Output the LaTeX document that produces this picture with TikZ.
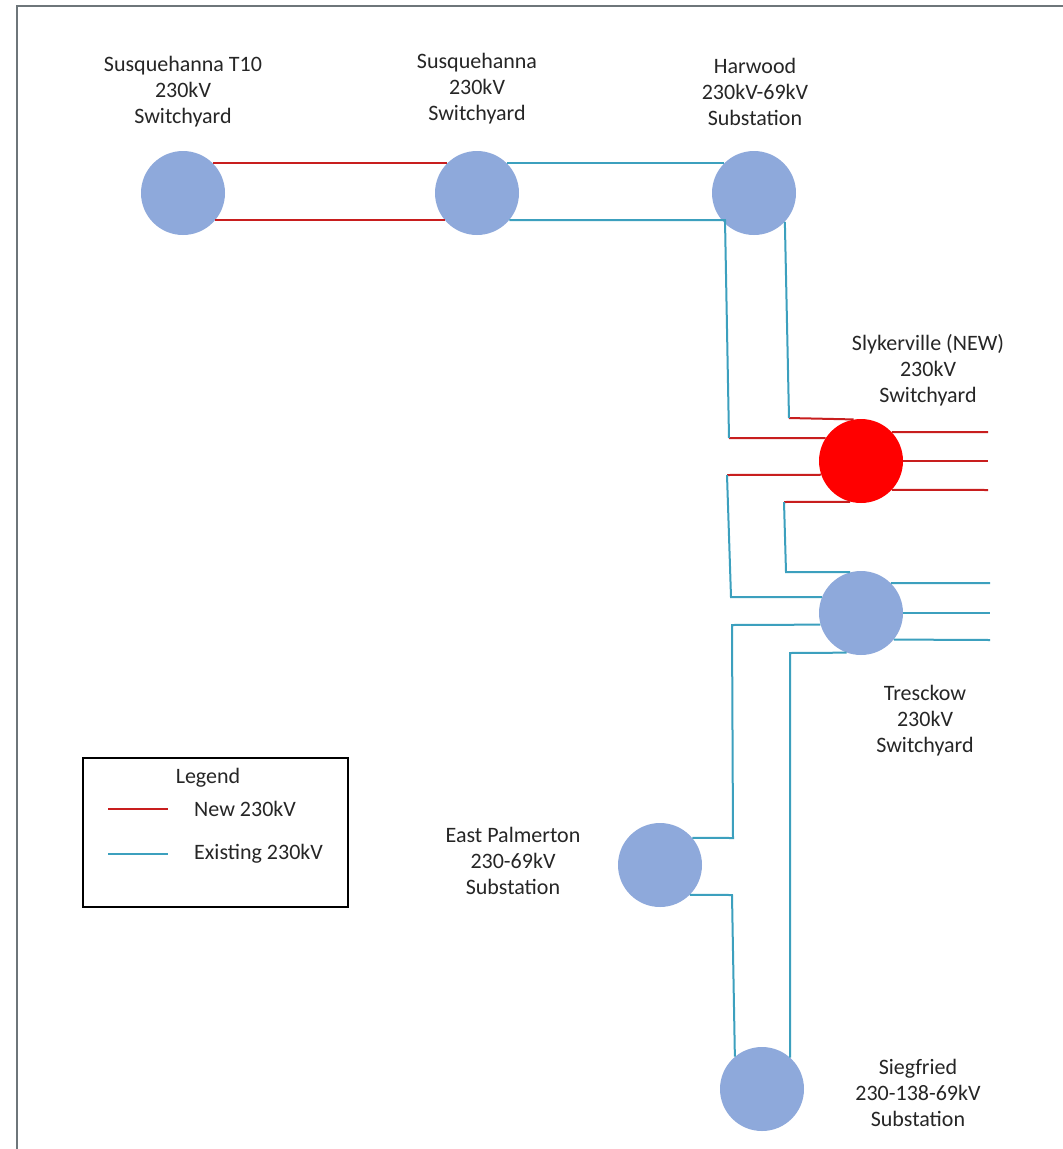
\documentclass[tikz,border=0pt]{standalone}
\usepackage{fontspec}
\setmainfont{Carlito}
\definecolor{stnblue}{RGB}{142,169,219}
\definecolor{newred}{RGB}{200,30,30}
\definecolor{oldcyan}{RGB}{60,160,190}
\definecolor{framegray}{RGB}{110,118,122}
\tikzset{
  stn/.style={circle, fill=stnblue, minimum size=84pt, inner sep=0pt},
  newstn/.style={stn, fill=red},
  lbl/.style={align=center, font=\fontsize{22}{26}\selectfont, text=black!85, inner sep=0pt},
  newline/.style={draw=newred, line width=2pt},
  oldline/.style={draw=oldcyan, line width=2pt},
  legframe/.style={draw=black, line width=1.5pt, minimum width=265pt, minimum height=149pt, inner sep=0pt}
}
\begin{document}
\begin{tikzpicture}[x=1pt,y=-1pt]
\path[use as bounding box] (0,0) rectangle (1063,1149);
\fill[white] (0,0) rectangle (1063,1149);
\draw[framegray, line width=2.5pt] (17,1149) -- (17,6) -- (1063,6);

% stations
\node[stn] (t10) at (183,193) {};
\node[stn] (sq) at (477,193) {};
\node[stn] (hw) at (754,193) {};
\node[newstn] (sly) at (861,461) {};
\node[stn] (tr) at (861,613) {};
\node[stn] (ep) at (660,865) {};
\node[stn] (sg) at (762,1089) {};

% labels
\node[lbl] (lt10) at (183,92) {Susquehanna T10\\230kV\\Switchyard};
\node[lbl] (lsq) at (477,89) {Susquehanna\\230kV\\Switchyard};
\node[lbl] (lhw) at (755,92) {Harwood\\230kV-69kV\\Substation};
\node[lbl] (lsly) at (928,370) {Slykerville (NEW)\\230kV\\Switchyard};
\node[lbl] (ltr) at (925,721) {Tresckow\\230kV\\Switchyard};
\node[lbl] (lep) at (513,861) {East Palmerton\\230-69kV\\Substation};
\node[lbl] (lsg) at (918,1093) {Siegfried\\230-138-69kV\\Substation};

% junction coordinates
\coordinate (hwL) at (725,220);
\coordinate (c1) at (729,438);
\coordinate (c2) at (789,418);
\coordinate (c3) at (727,475);
\coordinate (c4) at (731,597);
\coordinate (c5) at (784,502);
\coordinate (c6) at (786,572);
\coordinate (c7) at (732,625);
\coordinate (c8) at (733,838);
\coordinate (c9) at (790,653);
\coordinate (c10) at (732,895);
\coordinate (r1) at (988,432);
\coordinate (r2) at (988,461);
\coordinate (r3) at (988,490);
\coordinate (s1) at (990,583);
\coordinate (s2) at (990,613);
\coordinate (s3) at (990,640);

% new lines
\draw[newline] (t10.45) -- (sq.135);
\draw[newline] (t10.-40) -- (sq.-140);
\draw[newline] (c2) -- (sly.100);
\draw[newline] (c1) -- (sly.147);
\draw[newline] (c3) -- (sly.199);
\draw[newline] (c5) -- (sly.255);
\draw[newline] (sly.43) -- (r1);
\draw[newline] (sly.0) -- (r2);
\draw[newline] (sly.-43) -- (r3);

% existing lines
\draw[oldline] (sq.45) -- (hw.135);
\draw[oldline] (sq.-40) -- (hwL) -- (c1);
\draw[oldline] (hw.-43) -- (c2);
\draw[oldline] (c3) -- (c4) -- (tr.158);
\draw[oldline] (c5) -- (c6) -- (tr.105);
\draw[oldline] (tr.45) -- (s1);
\draw[oldline] (tr.0) -- (s2);
\draw[oldline] (tr.-39) -- (s3);
\draw[oldline] (tr.196) -- (c7) -- (c8) -- (ep.40);
\draw[oldline] (tr.250) -- (c9) -- (sg.48);
\draw[oldline] (ep.-45) -- (c10) -- (sg.130);

% legend
\node[legframe] (leg) at (215.5,832.5) {};
\node[lbl] (legt) at (208,778) {Legend};
\coordinate (la) at (108,809);
\coordinate (lb) at (168,809);
\coordinate (lc) at (108,854);
\coordinate (ld) at (168,854);
\draw[newline] (la) -- (lb);
\draw[oldline] (lc) -- (ld);
\node[lbl, anchor=west] (legnew) at (194,809) {New 230kV};
\node[lbl, anchor=west] (legold) at (194,854) {Existing 230kV};
\end{tikzpicture}
\end{document}
